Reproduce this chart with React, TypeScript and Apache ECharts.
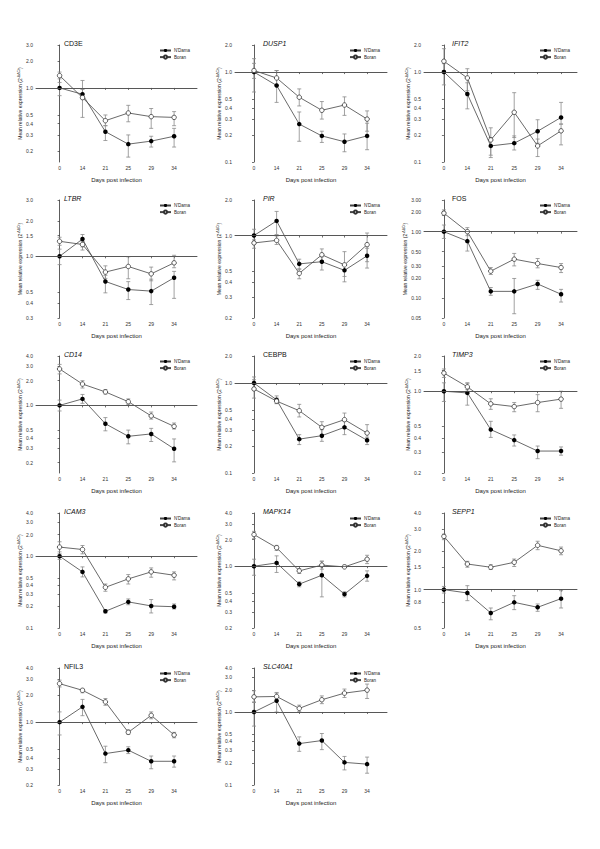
import React, { useEffect, useRef } from 'react';
import * as echarts from 'echarts';

const days = ['0', '14', '21', '25', '29', '34'];

// each row: [mean, lower error, upper error]
const CD3E_ndama = [[1.0, 0.82, 1.15], [0.85, 0.75, 0.96], [0.326, 0.26, 0.38], [0.237, 0.17, 0.30], [0.256, 0.22, 0.29], [0.29, 0.22, 0.355]];
const CD3E_boran = [[1.37, 1.26, 1.5], [0.78, 0.47, 1.21], [0.432, 0.38, 0.5], [0.526, 0.42, 0.64], [0.479, 0.355, 0.59], [0.47, 0.38, 0.545]];
const CD3E_ticks = [0.2, 0.3, 0.4, 0.5, 1, 2, 3];
const CD3E_range = [0.15, 3];

const DUSP1_ndama = [[1.0, 0.6, 1.25], [0.71, 0.46, 1.04], [0.264, 0.17, 0.36], [0.195, 0.165, 0.22], [0.168, 0.13, 0.205], [0.195, 0.137, 0.27]];
const DUSP1_boran = [[1.04, 0.85, 1.41], [0.86, 0.71, 1.04], [0.525, 0.42, 0.65], [0.376, 0.30, 0.47], [0.43, 0.33, 0.53], [0.30, 0.22, 0.37]];
const DUSP1_ticks = [0.1, 0.2, 0.3, 0.4, 0.5, 1, 2];
const DUSP1_range = [0.1, 2];

const IFIT2_ndama = [[1.0, 0.72, 1.24], [0.57, 0.39, 0.76], [0.151, 0.112, 0.187], [0.162, 0.136, 0.195], [0.22, 0.162, 0.295], [0.313, 0.264, 0.46]];
const IFIT2_boran = [[1.32, 1.04, 1.82], [0.86, 0.62, 1.09], [0.176, 0.119, 0.24], [0.357, 0.187, 0.59], [0.151, 0.115, 0.18], [0.222, 0.155, 0.264]];
const IFIT2_ticks = [0.1, 0.2, 0.3, 0.4, 0.5, 1, 2];
const IFIT2_range = [0.1, 2];

const LTBR_ndama = [[1.0, 0.85, 1.15], [1.40, 1.2, 1.53], [0.612, 0.49, 0.69], [0.523, 0.43, 0.61], [0.507, 0.39, 0.64], [0.658, 0.44, 0.745]];
const LTBR_boran = [[1.34, 1.24, 1.45], [1.26, 1.13, 1.33], [0.735, 0.65, 0.83], [0.82, 0.645, 0.99], [0.71, 0.62, 0.81], [0.88, 0.8, 1.02]];
const LTBR_ticks = [0.3, 0.4, 0.5, 1, 1.5, 2, 3];
const LTBR_range = [0.3, 3];

const PIR_ndama = [[1.0, 0.89, 1.13], [1.33, 1.02, 1.6], [0.575, 0.52, 0.63], [0.60, 0.51, 0.66], [0.507, 0.405, 0.56], [0.673, 0.53, 0.78]];
const PIR_boran = [[0.865, 0.78, 0.92], [0.91, 0.84, 0.99], [0.478, 0.43, 0.52], [0.687, 0.61, 0.77], [0.564, 0.45, 0.73], [0.837, 0.6, 1.05]];
const PIR_ticks = [0.2, 0.3, 0.4, 0.5, 1, 2];
const PIR_range = [0.2, 2];

const FOS_ndama = [[1.0, 0.79, 1.26], [0.72, 0.51, 0.98], [0.126, 0.11, 0.144], [0.126, 0.058, 0.197], [0.163, 0.135, 0.185], [0.114, 0.087, 0.135]];
const FOS_boran = [[1.9, 1.75, 2.13], [1.0, 0.87, 1.15], [0.254, 0.226, 0.288], [0.385, 0.305, 0.47], [0.331, 0.285, 0.394], [0.288, 0.242, 0.331]];
const FOS_ticks = [0.05, 0.1, 0.2, 0.3, 0.5, 1, 2, 3];
const FOS_range = [0.05, 3];

const CD14_ndama = [[1.0, 0.855, 1.16], [1.2, 1.06, 1.36], [0.597, 0.49, 0.71], [0.42, 0.34, 0.5], [0.449, 0.363, 0.525], [0.296, 0.205, 0.39]];
const CD14_boran = [[2.78, 2.42, 3.16], [1.82, 1.63, 2.0], [1.46, 1.38, 1.56], [1.11, 1.03, 1.2], [0.745, 0.68, 0.83], [0.555, 0.515, 0.61]];
const CD14_ticks = [0.2, 0.3, 0.4, 0.5, 1, 2, 3, 4];
const CD14_range = [0.15, 4];

const CEBPB_ndama = [[1.0, 0.88, 1.09], [0.65, 0.59, 0.68], [0.238, 0.207, 0.267], [0.26, 0.225, 0.303], [0.322, 0.267, 0.375], [0.231, 0.207, 0.25]];
const CEBPB_boran = [[0.86, 0.68, 1.17], [0.63, 0.6, 0.72], [0.493, 0.42, 0.58], [0.322, 0.267, 0.372], [0.392, 0.33, 0.464], [0.278, 0.225, 0.345]];
const CEBPB_ticks = [0.1, 0.2, 0.3, 0.4, 0.5, 1, 2];
const CEBPB_range = [0.1, 2];

const TIMP3_ndama = [[1.0, 0.817, 1.18], [0.967, 0.76, 1.17], [0.47, 0.403, 0.553], [0.382, 0.34, 0.423], [0.308, 0.265, 0.34], [0.308, 0.284, 0.334]];
const TIMP3_boran = [[1.43, 1.31, 1.55], [1.09, 1.03, 1.18], [0.78, 0.7, 0.862], [0.739, 0.668, 0.8], [0.8, 0.668, 0.935], [0.856, 0.714, 1.0]];
const TIMP3_ticks = [0.2, 0.3, 0.4, 0.5, 1, 1.5, 2];
const TIMP3_range = [0.2, 2];

const ICAM3_ndama = [[1.0, 0.9, 1.08], [0.605, 0.515, 0.71], [0.171, 0.162, 0.18], [0.231, 0.211, 0.254], [0.203, 0.162, 0.249], [0.198, 0.184, 0.216]];
const ICAM3_boran = [[1.34, 1.15, 1.59], [1.24, 1.08, 1.41], [0.369, 0.325, 0.41], [0.483, 0.41, 0.555], [0.605, 0.51, 0.687], [0.543, 0.468, 0.605]];
const ICAM3_ticks = [0.1, 0.2, 0.3, 0.4, 0.5, 1, 2, 3, 4];
const ICAM3_range = [0.1, 4];

const MAPK14_ndama = [[1.0, 0.79, 1.2], [1.09, 0.85, 1.31], [0.627, 0.585, 0.666], [0.79, 0.45, 1.14], [0.483, 0.45, 0.514], [0.778, 0.677, 0.886]];
const MAPK14_boran = [[2.28, 2.05, 2.48], [1.62, 1.51, 1.72], [0.886, 0.827, 0.94], [1.03, 0.925, 1.14], [0.983, 0.957, 1.03], [1.2, 1.07, 1.33]];
const MAPK14_ticks = [0.2, 0.3, 0.4, 0.5, 1, 2, 3, 4];
const MAPK14_range = [0.2, 4];

const SEPP1_ndama = [[1.0, 0.94, 1.06], [0.942, 0.82, 1.075], [0.656, 0.58, 0.718], [0.795, 0.697, 0.897], [0.727, 0.676, 0.772], [0.85, 0.718, 0.982]];
const SEPP1_boran = [[2.62, 2.47, 2.73], [1.59, 1.5, 1.67], [1.5, 1.44, 1.57], [1.64, 1.52, 1.74], [2.23, 2.06, 2.4], [2.02, 1.88, 2.16]];
const SEPP1_ticks = [0.5, 0.8, 1, 1.5, 2, 3, 4];
const SEPP1_range = [0.5, 4];

const NFIL3_ndama = [[1.0, 0.72, 1.3], [1.48, 1.18, 1.79], [0.447, 0.354, 0.54], [0.488, 0.447, 0.532], [0.367, 0.303, 0.42], [0.367, 0.316, 0.42]];
const NFIL3_boran = [[2.68, 2.46, 2.93], [2.26, 2.12, 2.36], [1.68, 1.54, 1.83], [0.771, 0.732, 0.82], [1.19, 1.09, 1.3], [0.72, 0.67, 0.77]];
const NFIL3_ticks = [0.2, 0.3, 0.4, 0.5, 1, 2, 3, 4];
const NFIL3_range = [0.2, 4];

const SLC40A1_ndama = [[1.0, 0.64, 1.37], [1.42, 1.0, 1.85], [0.369, 0.289, 0.456], [0.406, 0.305, 0.507], [0.204, 0.161, 0.246], [0.193, 0.145, 0.241]];
const SLC40A1_boran = [[1.61, 1.35, 1.95], [1.63, 1.5, 1.81], [1.12, 1.01, 1.24], [1.47, 1.3, 1.66], [1.81, 1.58, 2.06], [1.99, 1.53, 2.41]];
const SLC40A1_ticks = [0.1, 0.2, 0.3, 0.4, 0.5, 1, 2, 3, 4];
const SLC40A1_range = [0.1, 4];

const panels = [
  { name: 'CD3E', italic: false, nd: CD3E_ndama, bo: CD3E_boran, ticks: CD3E_ticks, range: CD3E_range, dec: 1 },
  { name: 'DUSP1', italic: true, nd: DUSP1_ndama, bo: DUSP1_boran, ticks: DUSP1_ticks, range: DUSP1_range, dec: 1 },
  { name: 'IFIT2', italic: true, nd: IFIT2_ndama, bo: IFIT2_boran, ticks: IFIT2_ticks, range: IFIT2_range, dec: 1 },
  { name: 'LTBR', italic: true, nd: LTBR_ndama, bo: LTBR_boran, ticks: LTBR_ticks, range: LTBR_range, dec: 1 },
  { name: 'PIR', italic: true, nd: PIR_ndama, bo: PIR_boran, ticks: PIR_ticks, range: PIR_range, dec: 1 },
  { name: 'FOS', italic: false, nd: FOS_ndama, bo: FOS_boran, ticks: FOS_ticks, range: FOS_range, dec: 2 },
  { name: 'CD14', italic: true, nd: CD14_ndama, bo: CD14_boran, ticks: CD14_ticks, range: CD14_range, dec: 1 },
  { name: 'CEBPB', italic: false, nd: CEBPB_ndama, bo: CEBPB_boran, ticks: CEBPB_ticks, range: CEBPB_range, dec: 1 },
  { name: 'TIMP3', italic: true, nd: TIMP3_ndama, bo: TIMP3_boran, ticks: TIMP3_ticks, range: TIMP3_range, dec: 1 },
  { name: 'ICAM3', italic: true, nd: ICAM3_ndama, bo: ICAM3_boran, ticks: ICAM3_ticks, range: ICAM3_range, dec: 1 },
  { name: 'MAPK14', italic: true, nd: MAPK14_ndama, bo: MAPK14_boran, ticks: MAPK14_ticks, range: MAPK14_range, dec: 1 },
  { name: 'SEPP1', italic: true, nd: SEPP1_ndama, bo: SEPP1_boran, ticks: SEPP1_ticks, range: SEPP1_range, dec: 1 },
  { name: 'NFIL3', italic: false, nd: NFIL3_ndama, bo: NFIL3_boran, ticks: NFIL3_ticks, range: NFIL3_range, dec: 1 },
  { name: 'SLC40A1', italic: true, nd: SLC40A1_ndama, bo: SLC40A1_boran, ticks: SLC40A1_ticks, range: SLC40A1_range, dec: 1 },
];

// layout (pixels)
const cols = [
  { left: 36, width: 161, xMin: -1.03, xMax: 6 },
  { left: 235, width: 152, xMin: -0.84, xMax: 5.88 },
  { left: 424, width: 153, xMin: -0.85, xMax: 5.68 },
];
const rows = [
  { top: 45, bottom: 162 },
  { top: 200, bottom: 318 },
  { top: 356, bottom: 473 },
  { top: 513, bottom: 628 },
  { top: 668, bottom: 785 },
];

const FONT = 'Liberation Sans, Arial, sans-serif';
const AXIS = '#333';
const lg = (v: number) => Math.log10(v);

function errorBar(params: any, api: any) {
  const x = api.value(0);
  const lo = api.coord([x, api.value(1)]);
  const hi = api.coord([x, api.value(2)]);
  const w = 2;
  const style = { stroke: '#8a8a8a', lineWidth: 0.8 };
  return {
    type: 'group',
    children: [
      { type: 'line', shape: { x1: lo[0], y1: lo[1], x2: hi[0], y2: hi[1] }, style },
      { type: 'line', shape: { x1: lo[0] - w, y1: lo[1], x2: lo[0] + w, y2: lo[1] }, style },
      { type: 'line', shape: { x1: hi[0] - w, y1: hi[1], x2: hi[0] + w, y2: hi[1] }, style },
    ],
  };
}

function buildOption() {
  const grid: any[] = [];
  const xAxis: any[] = [];
  const yAxis: any[] = [];
  const series: any[] = [];
  const title: any[] = [];
  const legend: any[] = [];
  const xIdx = days.map((_, j) => j);

  panels.forEach((p, i) => {
    const c = cols[i % 3];
    const r = rows[Math.floor(i / 3)];
    grid.push({ left: c.left, top: r.top, width: c.width, height: r.bottom - r.top, containLabel: false, outerBoundsMode: 'none' });
    xAxis.push({
      type: 'value', gridIndex: i, min: c.xMin, max: c.xMax,
      axisLine: { show: true, lineStyle: { color: AXIS, width: 0.8 } },
      axisTick: { show: true, customValues: xIdx, length: 2, lineStyle: { color: AXIS, width: 0.7 } },
      axisLabel: { customValues: xIdx, formatter: (v: number) => days[Math.round(v)] ?? '', fontSize: 5, margin: 3, color: '#333' },
      splitLine: { show: false },
      name: 'Days post infection', nameLocation: 'middle', nameGap: 15,
      nameTextStyle: { fontSize: 6, color: '#222' },
    });
    const tv = p.ticks.map(lg);
    yAxis.push({
      type: 'value', gridIndex: i, min: lg(p.range[0]), max: lg(p.range[1]),
      axisLine: { show: true, lineStyle: { color: AXIS, width: 0.8 } },
      axisTick: { show: true, customValues: tv, length: 2, lineStyle: { color: AXIS, width: 0.7 } },
      axisLabel: { customValues: tv, formatter: (v: number) => Math.pow(10, v).toFixed(p.dec), fontSize: 5, margin: 3, color: '#333' },
      splitLine: { show: false },
      name: 'Mean relative expression (2{s|-ΔΔCt})', nameLocation: 'middle', nameGap: 12, nameRotate: 90,
      nameTextStyle: { fontSize: 5, color: '#222', rich: { s: { fontSize: 3.5, verticalAlign: 'top', color: '#222' } } },
    });
    title.push({
      text: p.name, left: c.left + 28, top: r.top - 5, padding: 0,
      textStyle: { fontSize: 7, fontWeight: 'normal', fontStyle: p.italic ? 'italic' : 'normal', color: '#111', fontFamily: FONT },
    });
    legend.push({
      left: c.left + c.width - 38, top: r.top + 3, orient: 'vertical', padding: 0,
      itemWidth: 11, itemHeight: 4, itemGap: 1.5, selectedMode: false,
      data: ["N'Dama", 'Boran'],
      textStyle: { fontSize: 4.5, color: '#222', padding: [0, 0, 0, -2] },
    });
    series.push({
      type: 'custom', xAxisIndex: i, yAxisIndex: i, silent: true, z: 1,
      renderItem: errorBar, encode: { x: 0, y: [1, 2] },
      data: p.nd.map((d, j) => [j, lg(d[1]), lg(d[2])]),
    });
    series.push({
      type: 'custom', xAxisIndex: i, yAxisIndex: i, silent: true, z: 1,
      renderItem: errorBar, encode: { x: 0, y: [1, 2] },
      data: p.bo.map((d, j) => [j, lg(d[1]), lg(d[2])]),
    });
    series.push({
      type: 'line', name: "N'Dama", xAxisIndex: i, yAxisIndex: i, z: 3,
      data: p.nd.map((d, j) => [j, lg(d[0])]),
      symbol: 'circle', symbolSize: 4.5,
      itemStyle: { color: '#000' },
      lineStyle: { color: '#444', width: 0.8 },
      markLine: {
        silent: true, symbol: 'none', label: { show: false },
        lineStyle: { color: '#555', width: 0.8, type: 'solid' },
        data: [{ yAxis: 0 }],
      },
    });
    series.push({
      type: 'line', name: 'Boran', xAxisIndex: i, yAxisIndex: i, z: 4,
      data: p.bo.map((d, j) => [j, lg(d[0])]),
      symbol: 'circle', symbolSize: 4.5,
      itemStyle: { color: '#fff', borderColor: '#333', borderWidth: 0.8 },
      lineStyle: { color: '#444', width: 0.8 },
    });
  });

  return {
    animation: false,
    backgroundColor: '#fff',
    textStyle: { fontFamily: FONT },
    grid, xAxis, yAxis, series, title, legend,
  };
}

export default function App() {
  const ref = useRef<HTMLDivElement>(null);
  useEffect(() => {
    document.body.style.margin = '0';
    const chart = echarts.init(ref.current!, null, { renderer: 'svg' });
    chart.setOption(buildOption() as any);
    return () => chart.dispose();
  }, []);
  return <div ref={ref} style={{ width: 600, height: 849 }} />;
}
